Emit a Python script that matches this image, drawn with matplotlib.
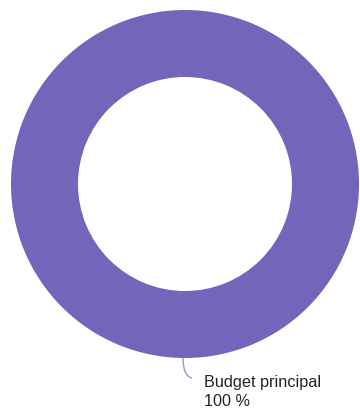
import matplotlib
matplotlib.use("Agg")
import matplotlib.pyplot as plt
from matplotlib.path import Path
from matplotlib.patches import PathPatch

categories = ["Budget principal"]
values = [100]
color = "#7166BA"

fig = plt.figure(figsize=(3.6, 4.12), dpi=100)
ax = fig.add_axes([0, 0, 1, 1])
total = sum(values)
ax.pie(values, colors=[color], center=(185, 184), radius=174,
       startangle=90, counterclock=False,
       wedgeprops=dict(width=174 * 0.385, edgecolor="none", linewidth=0))
ax.set_xlim(0, 360)
ax.set_ylim(412, 0)
ax.set_aspect("equal")
ax.axis("off")

# leader line
verts = [(183, 358), (183, 376), (192, 378)]
path = Path(verts, [Path.MOVETO, Path.CURVE3, Path.CURVE3])
ax.add_patch(PathPatch(path, facecolor="none", edgecolor="#9b94d0", lw=1.0))

pct = values[0] / total * 100
ax.text(204, 383, categories[0], fontsize=11.7, family="Liberation Sans",
        va="center", ha="left", color="#222222")
ax.text(204, 402, f"{pct:.0f} %", fontsize=11.7, family="Liberation Sans",
        va="center", ha="left", color="#222222")

fig.savefig("out.png", dpi=100)
